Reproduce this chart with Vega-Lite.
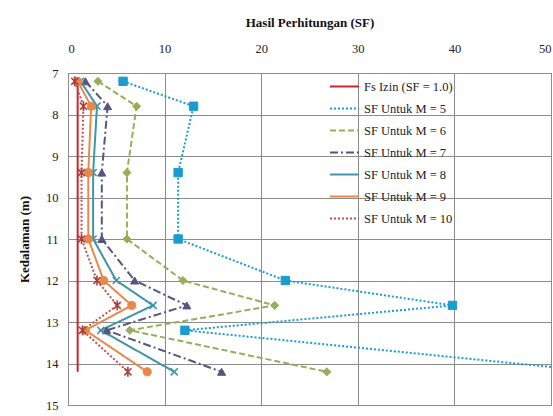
{
  "$schema": "https://vega.github.io/schema/vega-lite/v6.json",
  "width": 483,
  "height": 332,
  "autosize": "none",
  "padding": {"left": 68, "top": 73, "right": 2, "bottom": 11},
  "background": "white",
  "config": {
    "font": "Liberation Serif",
    "view": {"stroke": "#8c8c8c", "strokeWidth": 1}
  },
  "data": {
    "values": [
      {"series": "Fs Izin (SF = 1.0)", "depth": 7.2, "sf": 1.0},
      {"series": "Fs Izin (SF = 1.0)", "depth": 14.2, "sf": 1.0},

      {"series": "SF Untuk M = 5", "depth": 7.2, "sf": 5.7},
      {"series": "SF Untuk M = 5", "depth": 7.8, "sf": 13.0},
      {"series": "SF Untuk M = 5", "depth": 9.4, "sf": 11.4},
      {"series": "SF Untuk M = 5", "depth": 11.0, "sf": 11.4},
      {"series": "SF Untuk M = 5", "depth": 12.0, "sf": 22.5},
      {"series": "SF Untuk M = 5", "depth": 12.6, "sf": 39.8},
      {"series": "SF Untuk M = 5", "depth": 13.2, "sf": 12.1},
      {"series": "SF Untuk M = 5", "depth": 14.2, "sf": 55.0},

      {"series": "SF Untuk M = 6", "depth": 7.2, "sf": 3.1},
      {"series": "SF Untuk M = 6", "depth": 7.8, "sf": 7.1},
      {"series": "SF Untuk M = 6", "depth": 9.4, "sf": 6.1},
      {"series": "SF Untuk M = 6", "depth": 11.0, "sf": 6.1},
      {"series": "SF Untuk M = 6", "depth": 12.0, "sf": 11.9},
      {"series": "SF Untuk M = 6", "depth": 12.6, "sf": 21.4},
      {"series": "SF Untuk M = 6", "depth": 13.2, "sf": 6.4},
      {"series": "SF Untuk M = 6", "depth": 14.2, "sf": 26.8},

      {"series": "SF Untuk M = 7", "depth": 7.2, "sf": 1.8},
      {"series": "SF Untuk M = 7", "depth": 7.8, "sf": 4.1},
      {"series": "SF Untuk M = 7", "depth": 9.4, "sf": 3.5},
      {"series": "SF Untuk M = 7", "depth": 11.0, "sf": 3.5},
      {"series": "SF Untuk M = 7", "depth": 12.0, "sf": 6.9},
      {"series": "SF Untuk M = 7", "depth": 12.6, "sf": 12.3},
      {"series": "SF Untuk M = 7", "depth": 13.2, "sf": 4.0},
      {"series": "SF Untuk M = 7", "depth": 14.2, "sf": 15.9},

      {"series": "SF Untuk M = 8", "depth": 7.2, "sf": 1.3},
      {"series": "SF Untuk M = 8", "depth": 7.8, "sf": 3.0},
      {"series": "SF Untuk M = 8", "depth": 9.4, "sf": 2.6},
      {"series": "SF Untuk M = 8", "depth": 11.0, "sf": 2.6},
      {"series": "SF Untuk M = 8", "depth": 12.0, "sf": 5.0},
      {"series": "SF Untuk M = 8", "depth": 12.6, "sf": 8.8},
      {"series": "SF Untuk M = 8", "depth": 13.2, "sf": 3.4},
      {"series": "SF Untuk M = 8", "depth": 14.2, "sf": 11.0},

      {"series": "SF Untuk M = 9", "depth": 7.2, "sf": 1.0},
      {"series": "SF Untuk M = 9", "depth": 7.8, "sf": 2.4},
      {"series": "SF Untuk M = 9", "depth": 9.4, "sf": 2.1},
      {"series": "SF Untuk M = 9", "depth": 11.0, "sf": 2.1},
      {"series": "SF Untuk M = 9", "depth": 12.0, "sf": 3.7},
      {"series": "SF Untuk M = 9", "depth": 12.6, "sf": 6.6},
      {"series": "SF Untuk M = 9", "depth": 13.2, "sf": 1.8},
      {"series": "SF Untuk M = 9", "depth": 14.2, "sf": 8.2},

      {"series": "SF Untuk M = 10", "depth": 7.2, "sf": 0.7},
      {"series": "SF Untuk M = 10", "depth": 7.8, "sf": 1.6},
      {"series": "SF Untuk M = 10", "depth": 9.4, "sf": 1.4},
      {"series": "SF Untuk M = 10", "depth": 11.0, "sf": 1.4},
      {"series": "SF Untuk M = 10", "depth": 12.0, "sf": 3.0},
      {"series": "SF Untuk M = 10", "depth": 12.6, "sf": 5.1},
      {"series": "SF Untuk M = 10", "depth": 13.2, "sf": 1.5},
      {"series": "SF Untuk M = 10", "depth": 14.2, "sf": 6.2}
    ]
  },
  "encoding": {
    "x": {
      "field": "sf",
      "type": "quantitative",
      "scale": {"domain": [0, 50], "nice": false, "zero": false},
      "axis": {
        "orient": "top",
        "title": "Hasil Perhitungan (SF)",
        "values": [0, 10, 20, 30, 40, 50],
        "grid": true,
        "gridColor": "#8c8c8c",
        "ticks": false,
        "domain": false,
        "labelFont": "Liberation Serif",
        "labelFontSize": 12.5,
        "labelColor": "#222",
        "titleFont": "Liberation Serif",
        "titleFontSize": 13,
        "titleFontWeight": "bold",
        "titleColor": "#111",
        "labelPadding": 18,
        "titlePadding": 13
      }
    },
    "y": {
      "field": "depth",
      "type": "quantitative",
      "scale": {"domain": [7, 15], "reverse": true, "nice": false, "zero": false},
      "axis": {
        "title": "Kedalaman (m)",
        "values": [7, 8, 9, 10, 11, 12, 13, 14, 15],
        "grid": true,
        "gridColor": "#8c8c8c",
        "ticks": false,
        "domain": false,
        "labelFont": "Liberation Serif",
        "labelFontSize": 12.5,
        "labelColor": "#222",
        "titleFont": "Liberation Serif",
        "titleFontSize": 13,
        "titleFontWeight": "bold",
        "titleColor": "#111",
        "labelPadding": 10,
        "titlePadding": 14
      }
    }
  },
  "layer": [
    {
      "mark": {"type": "line", "strokeWidth": 2, "clip": true},
      "encoding": {
        "order": {"field": "depth", "type": "quantitative"},
        "color": {
          "field": "series",
          "type": "nominal",
          "title": null,
          "scale": {
            "domain": ["Fs Izin (SF = 1.0)", "SF Untuk M = 5", "SF Untuk M = 6", "SF Untuk M = 7", "SF Untuk M = 8", "SF Untuk M = 9", "SF Untuk M = 10"],
            "range": ["#c8282d", "#1c9bd1", "#94af58", "#55557f", "#3f95a8", "#e8894a", "#c0504d"]
          },
          "legend": {
            "orient": "none",
            "legendX": 261,
            "legendY": -2,
            "symbolSize": 841,
            "symbolStrokeWidth": 2,
            "labelOffset": 4,
            "rowPadding": -6.5,
            "padding": 0,
            "labelFont": "Liberation Serif",
            "labelFontSize": 12.5,
            "labelColor": "#222"
          }
        },
        "strokeDash": {
          "field": "series",
          "type": "nominal",
          "title": null,
          "scale": {
            "domain": ["Fs Izin (SF = 1.0)", "SF Untuk M = 5", "SF Untuk M = 6", "SF Untuk M = 7", "SF Untuk M = 8", "SF Untuk M = 9", "SF Untuk M = 10"],
            "range": [[1, 0], [2, 2], [6, 3], [8, 3, 2, 3], [1, 0], [1, 0], [2, 2]]
          },
          "legend": {
            "orient": "none",
            "legendX": 261,
            "legendY": -2,
            "symbolSize": 841,
            "symbolStrokeWidth": 2,
            "labelOffset": 4,
            "rowPadding": -6.5,
            "padding": 0,
            "labelFont": "Liberation Serif",
            "labelFontSize": 12.5,
            "labelColor": "#222"
          }
        }
      }
    },
    {
      "transform": [{"filter": "datum.series === 'SF Untuk M = 5'"}],
      "mark": {"type": "point", "shape": "square", "size": 70, "filled": true, "fill": "#1c9bd1", "stroke": "#1c9bd1", "strokeWidth": 1, "opacity": 1, "clip": true}
    },
    {
      "transform": [{"filter": "datum.series === 'SF Untuk M = 6'"}],
      "mark": {"type": "point", "shape": "diamond", "size": 65, "filled": true, "fill": "#94af58", "stroke": "#94af58", "strokeWidth": 1, "opacity": 1, "clip": true}
    },
    {
      "transform": [{"filter": "datum.series === 'SF Untuk M = 7'"}],
      "mark": {"type": "point", "shape": "triangle-up", "size": 65, "filled": true, "fill": "#55557f", "stroke": "#55557f", "strokeWidth": 1, "opacity": 1, "clip": true}
    },
    {
      "transform": [{"filter": "datum.series === 'SF Untuk M = 8'"}],
      "mark": {"type": "point", "shape": "stroke", "angle": 45, "size": 100, "filled": false, "stroke": "#3f95a8", "strokeWidth": 1.6, "opacity": 1, "clip": true}
    },
    {
      "transform": [{"filter": "datum.series === 'SF Untuk M = 8'"}],
      "mark": {"type": "point", "shape": "stroke", "angle": -45, "size": 100, "filled": false, "stroke": "#3f95a8", "strokeWidth": 1.6, "opacity": 1, "clip": true}
    },
    {
      "transform": [{"filter": "datum.series === 'SF Untuk M = 9'"}],
      "mark": {"type": "point", "shape": "circle", "size": 65, "filled": true, "fill": "#e8894a", "stroke": "#e8894a", "strokeWidth": 1, "opacity": 1, "clip": true}
    },
    {
      "transform": [{"filter": "datum.series === 'SF Untuk M = 10'"}],
      "mark": {"type": "point", "shape": "stroke", "angle": 45, "size": 100, "filled": false, "stroke": "#a8403d", "strokeWidth": 1.6, "opacity": 1, "clip": true}
    },
    {
      "transform": [{"filter": "datum.series === 'SF Untuk M = 10'"}],
      "mark": {"type": "point", "shape": "stroke", "angle": -45, "size": 100, "filled": false, "stroke": "#a8403d", "strokeWidth": 1.6, "opacity": 1, "clip": true}
    },
    {
      "transform": [{"filter": "datum.series === 'SF Untuk M = 10'"}],
      "mark": {"type": "point", "shape": "stroke", "angle": 90, "size": 100, "filled": false, "stroke": "#a8403d", "strokeWidth": 1.6, "opacity": 1, "clip": true}
    }
  ]
}
